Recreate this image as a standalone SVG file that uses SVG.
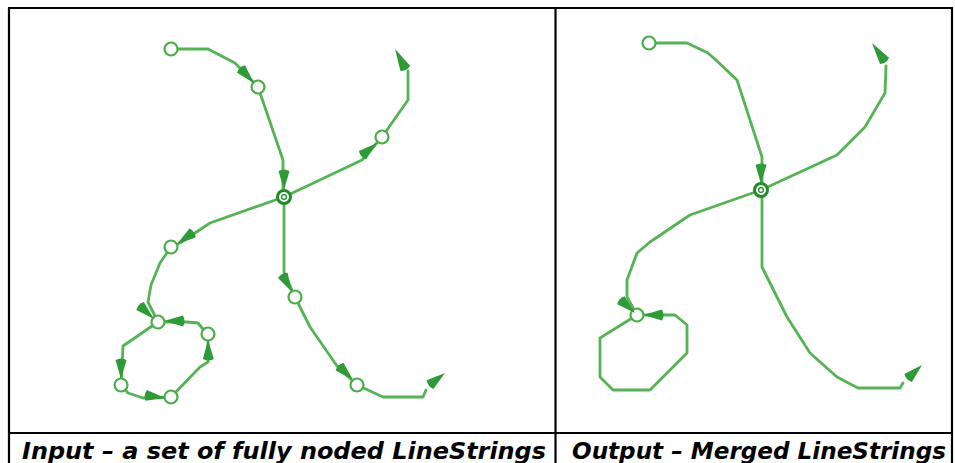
<svg xmlns="http://www.w3.org/2000/svg" width="955" height="463" viewBox="0 0 955 463">
<style>
.ln{fill:none;stroke:#55b355;stroke-width:2.8;stroke-linejoin:round;stroke-linecap:round}
.nd{fill:#fff;stroke:#4aad4a;stroke-width:2.2}
.ctr{fill:#fff;stroke:#1f8c28;stroke-width:3}
.ar{fill:#2f9b37}
.fr{stroke:#000;stroke-width:2.2;fill:none}
.cap{font-family:"DejaVu Sans","Liberation Sans",sans-serif;font-weight:bold;font-style:italic;font-size:22.5px;fill:#000}
</style>
<defs>
<path id="ah" d="M0,0 L-19,-5.5 Q-22,0 -19,5.5 Z"/>
</defs>
<rect width="955" height="463" fill="#fff"/>
<g id="frame">
<line class="fr" x1="8" y1="8" x2="953" y2="8"/>
<line class="fr" x1="9" y1="8" x2="9" y2="463"/>
<line class="fr" x1="555.5" y1="8" x2="555.5" y2="463"/>
<line class="fr" x1="952" y1="8" x2="952" y2="463"/>
<line class="fr" x1="8" y1="433" x2="953" y2="433"/>
</g>
<g id="connectors">
<polyline class="ln" points="171,49 208,49 235,63 258,87"/>
<polyline class="ln" points="258,87 283,160 283,197"/>
<polyline class="ln" points="284,197 362,160 382,137"/>
<polyline class="ln" points="382,137 408,100 408,71"/>
<polyline class="ln" points="284,197 210,223 180,243 171,247"/>
<polyline class="ln" points="171,247 160,263 151,285 148,302 158,322"/>
<polyline class="ln" points="158,322 123,346 122,368 121,385"/>
<polyline class="ln" points="121,385 128,393 143,398 171,397"/>
<polyline class="ln" points="171,397 200,367 208,362 208,334"/>
<polyline class="ln" points="207,334 198,323 187,322 158,322"/>
<polyline class="ln" points="284,197 284,272 295,297"/>
<polyline class="ln" points="295,297 310,327 337,366 357,385"/>
<polyline class="ln" points="357,385 383,397 423,397 426,390"/>
<polyline class="ln" points="649,43 687,43 708,53 718,62 737,80 762,157 762,190"/>
<polyline class="ln" points="761,190 772,185 837,155 865,127 885,93 886,66"/>
<polyline class="ln" points="761,190 690,215 650,242 637,253 627,280 627,297 637,315"/>
<polyline class="ln" points="637,315 600,338 600,377 613,390 650,390 687,353 687,325 675,315 637,315"/>
<polyline class="ln" points="762,190 762,267 787,317 810,353 837,377 858,388 900,388 903,383"/>
</g>
<g id="nodes-input">
<g id="nA"><circle class="nd" cx="171" cy="49" r="6.5"/></g>
<g id="nB"><circle class="nd" cx="258" cy="87" r="6.5"/></g>
<g id="nC"><circle class="ctr" cx="284" cy="197" r="6.5"/><circle fill="none" stroke="#1f8c28" stroke-width="1.3" cx="284" cy="197" r="2.4"/></g>
<g id="nD"><circle class="nd" cx="382" cy="137" r="6.5"/></g>
<g id="nE"><circle class="nd" cx="171" cy="247" r="6.5"/></g>
<g id="nF"><circle class="nd" cx="158" cy="322" r="6.5"/></g>
<g id="nG"><circle class="nd" cx="208" cy="334" r="6.5"/></g>
<g id="nH"><circle class="nd" cx="121" cy="385" r="6.5"/></g>
<g id="nI"><circle class="nd" cx="171" cy="397" r="6.5"/></g>
<g id="nJ"><circle class="nd" cx="295" cy="297" r="6.5"/></g>
<g id="nK"><circle class="nd" cx="357" cy="385" r="6.5"/></g>
</g>
<g id="nodes-output">
<g id="oA"><circle class="nd" cx="649" cy="43" r="6.5"/></g>
<g id="oC"><circle class="ctr" cx="761" cy="190" r="6.5"/><circle fill="none" stroke="#1f8c28" stroke-width="1.3" cx="761" cy="190" r="2.4"/></g>
<g id="oF"><circle class="nd" cx="637" cy="315" r="6.5"/></g>
</g>
<g id="arrows">
<use href="#ah" class="ar" transform="translate(254,83) rotate(47)"/>
<use href="#ah" class="ar" transform="translate(284,190) rotate(90)"/>
<use href="#ah" class="ar" transform="translate(377,143) rotate(-40)"/>
<use href="#ah" class="ar" transform="translate(395,49) rotate(-118) scale(1.15,1)"/>
<use href="#ah" class="ar" transform="translate(177,244) rotate(145)"/>
<use href="#ah" class="ar" transform="translate(154,319) rotate(43)"/>
<use href="#ah" class="ar" transform="translate(121,379) rotate(90)"/>
<use href="#ah" class="ar" transform="translate(165,398) rotate(8)"/>
<use href="#ah" class="ar" transform="translate(208,340) rotate(-91)"/>
<use href="#ah" class="ar" transform="translate(164,321) rotate(180)"/>
<use href="#ah" class="ar" transform="translate(292,292) rotate(61)"/>
<use href="#ah" class="ar" transform="translate(353,380) rotate(45)"/>
<use href="#ah" class="ar" transform="translate(445,373) rotate(-38)"/>
<use href="#ah" class="ar" transform="translate(761,184) rotate(90)"/>
<use href="#ah" class="ar" transform="translate(872,43) rotate(-125) scale(1.15,1)"/>
<use href="#ah" class="ar" transform="translate(635,313) rotate(42)"/>
<use href="#ah" class="ar" transform="translate(643,315) rotate(180)"/>
<use href="#ah" class="ar" transform="translate(922,365) rotate(-43)"/>
</g>
<g id="captions">
<text class="cap" x="22" y="459" textLength="524" lengthAdjust="spacingAndGlyphs">Input – a set of fully noded LineStrings</text>
<text class="cap" x="572" y="459" textLength="374" lengthAdjust="spacingAndGlyphs">Output – Merged LineStrings</text>
</g>
</svg>
